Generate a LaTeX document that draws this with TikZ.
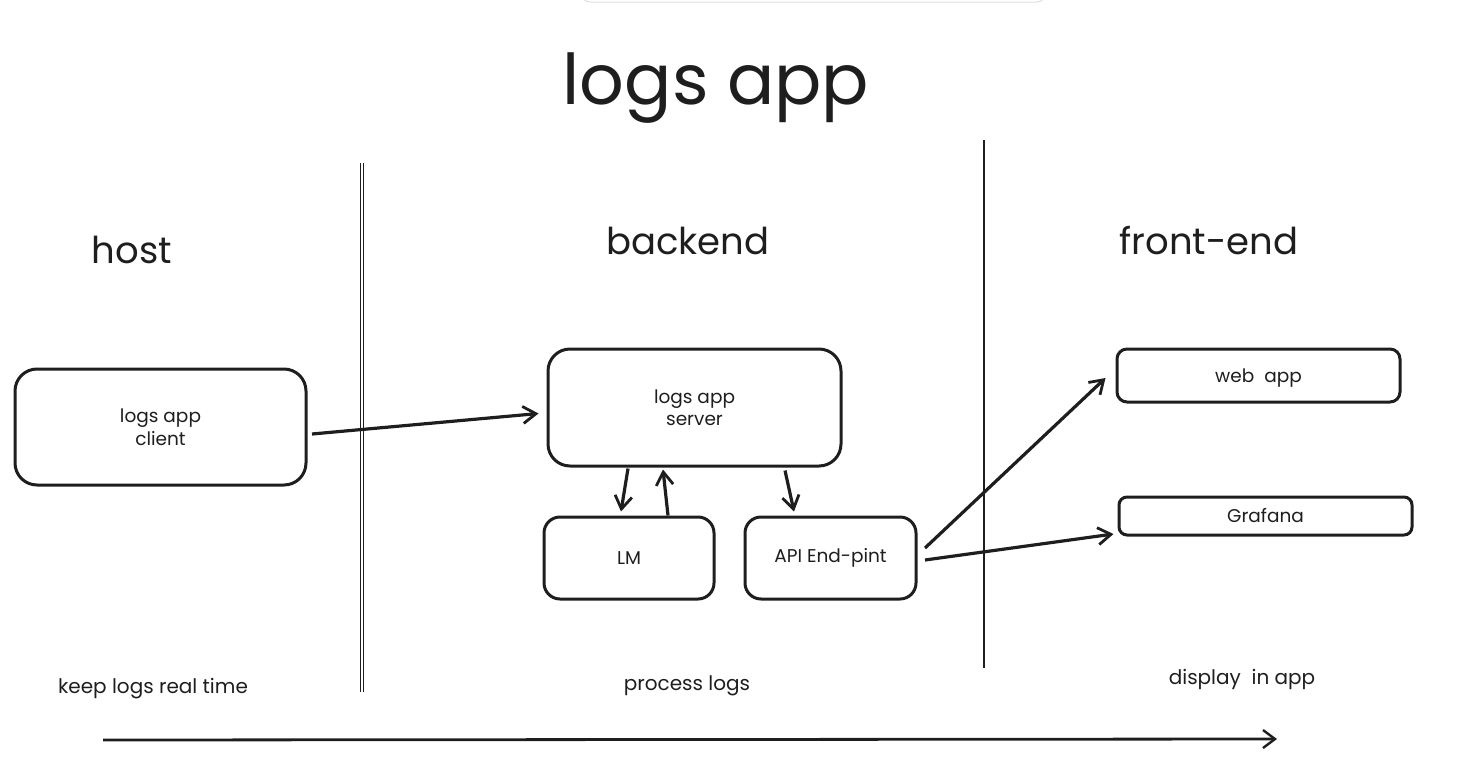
\documentclass[tikz,border=0pt]{standalone}
\usepackage{fontspec}
\setmainfont{Poppins}
\usetikzlibrary{arrows.meta}
\definecolor{ink}{HTML}{1E1E1E}
\tikzset{
  box/.style={draw=ink, line width=3pt, rounded corners=#1, fill=white},
  box/.default=22pt,
  conn/.style={draw=ink, line width=3.2pt, -{Straight Barb[length=13pt,width=17pt,line width=2.8pt]}},
  divider/.style={draw=ink, line width=2.8pt},
  lbl/.style={text=ink, font=\fontsize{18.5}{22.5}\selectfont, align=center},
  head/.style={text=ink, font=\fontsize{37}{44}\selectfont},
  note/.style={text=ink, font=\fontsize{20}{24}\selectfont},
}
\begin{document}
\begin{tikzpicture}[x=1pt,y=-1pt]
\useasboundingbox (0,0) rectangle (1477,779);
\begin{scope}
\clip (0,0) rectangle (1477,779);
\draw[draw=gray!25, line width=1pt, rounded corners=8pt] (582,-20) rectangle (1045,2);
\end{scope}
% title
\node[text=ink, font=\fontsize{70}{84}\selectfont] (title) at (716,88) {logs app};
% dividers
\draw[divider, line width=1.9pt] (360.5,163) -- (360.5,692);
\draw[divider, line width=1.9pt] (363.5,163) -- (363.5,692);
\draw[divider] (984,140) -- (984,668);
% headings
\node[head] (host) at (132,250) {host};
\node[head] (backend) at (688,241) {backend};
\node[head] (frontend) at (1209,241) {front-end};
% boxes
\node[box, minimum width=291pt, minimum height=116pt, lbl] (client) at (160.5,427) {logs app\\client};
\node[box, minimum width=293pt, minimum height=117pt, lbl] (server) at (694.5,407.5) {logs app\\server};
\node[box=16pt, minimum width=170pt, minimum height=82pt, lbl] (lm) at (629,558) {LM};
\node[box=16pt, minimum width=171pt, minimum height=82pt, lbl] (api) at (830.5,558) {API End-pint};
\node[box=10pt, minimum width=283pt, minimum height=53pt, lbl, text depth=0pt] (web) at (1258.5,375.5) {web\ \ app};
\node[box=8pt, minimum width=293pt, minimum height=38pt, lbl] (graf) at (1265.5,516) {Grafana};
% connectors
\coordinate (c1s) at (312,434);
\path[conn] (c1s) -- ([xshift=-8pt,yshift=-6pt]server.west);
\path[conn] ([yshift=-1pt]server.south -| 628,0) -- ([xshift=-7pt,yshift=4pt]lm.north -| 628,0);
\path[conn] (lm.north -| 668,0) -- ([xshift=-5pt,yshift=-2pt]server.south -| 668,0);
\path[conn] ([yshift=-3pt]server.south -| 785,0) -- ([xshift=9pt,yshift=4pt]api.north -| 785,0);
\coordinate (a1) at (925,548);
\coordinate (a2) at (925,560);
\path[conn] (a1) -- ([xshift=-10pt,yshift=-2.5pt]web.west);
\path[conn] (a2) -- ([xshift=-4pt,yshift=-18pt]graf.west);
% bottom notes
\node[note] (n1) at (153,689) {keep logs real time};
\node[note] (n2) at (687,686) {process logs};
\node[note] (n3) at (1242,679) {display\ \ in app};
\coordinate (t1) at (103,740);
\coordinate (t2) at (1277,739);
\path[draw=ink, line width=2.8pt, -{Straight Barb[length=12pt,width=18pt,line width=2.4pt]}] (t1) -- (t2);
\end{tikzpicture}
\end{document}
